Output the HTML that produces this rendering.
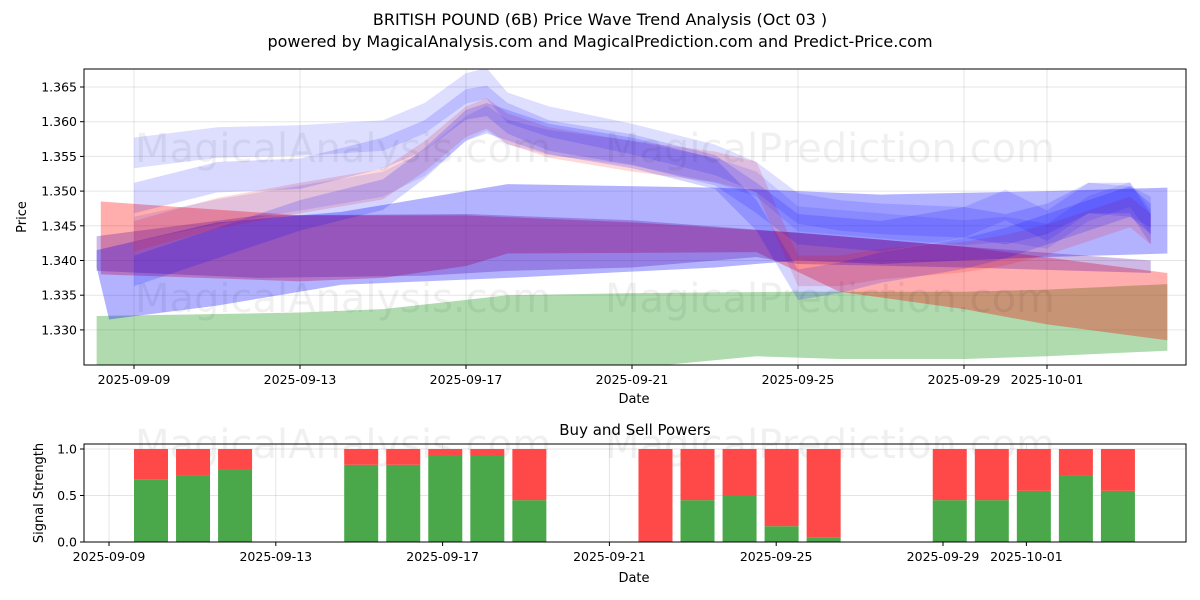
<!DOCTYPE html>
<html><head><meta charset="utf-8"><style>
body{margin:0;background:#fff}
svg{display:block;font-family:"DejaVu Sans","Liberation Sans",sans-serif}
</style></head><body>
<svg id="chart" width="1200" height="600" viewBox="0 0 1200 600">
<defs>
<clipPath id="topclip"><rect x="84" y="69" width="1102" height="296"/></clipPath>
</defs>
<rect width="1200" height="600" fill="#fff"/>
<text x="600" y="25" text-anchor="middle" font-size="16">BRITISH POUND (6B) Price Wave Trend Analysis (Oct 03 )</text>
<text x="600" y="47" text-anchor="middle" font-size="16">powered by MagicalAnalysis.com and MagicalPrediction.com and Predict-Price.com</text>
<g id="topgrid"></g>
<g id="bands" clip-path="url(#topclip)"></g>
<g font-size="40" fill="#000" fill-opacity="0.06">
<text x="135" y="162">MagicalAnalysis.com</text><text x="605" y="162">MagicalPrediction.com</text>
<text x="135" y="312">MagicalAnalysis.com</text><text x="605" y="312">MagicalPrediction.com</text>
<text x="135" y="458">MagicalAnalysis.com</text><text x="605" y="458">MagicalPrediction.com</text>
</g>
<rect x="84" y="69" width="1102" height="296" fill="none" stroke="#000"/>
<g id="topticks"></g>
<text x="634" y="403" text-anchor="middle" font-size="13">Date</text>
<text transform="translate(26,217) rotate(-90)" text-anchor="middle" font-size="13">Price</text>
<text x="635" y="435" text-anchor="middle" font-size="15">Buy and Sell Powers</text>
<g id="botgrid"></g>
<g id="bars"></g>
<rect x="84" y="444" width="1102" height="98" fill="none" stroke="#000"/>
<g id="botticks"></g>
<text x="634" y="582" text-anchor="middle" font-size="13">Date</text>
<text transform="translate(43,493) rotate(-90)" text-anchor="middle" font-size="13">Signal Strength</text>
</svg>
<script>
const xTickDays=[0,4,8,12,16,20,22];
const xTickLabels=["2025-09-09","2025-09-13","2025-09-17","2025-09-21","2025-09-25","2025-09-29","2025-10-01"];
const yTickValues=[1.330,1.335,1.340,1.345,1.350,1.355,1.360,1.365];
const sigTicks=[0,0.5,1.0];
// bands: days from 2025-09-09
const greenTopX=[-0.9,4,6,9,12,16,20,22,24.9];
const greenTopY=[1.332,1.3325,1.333,1.335,1.3353,1.3355,1.3355,1.3358,1.3366];
const greenBotX=[-0.9,12,15,17,20,22,24.9];
const greenBotY=[1.3245,1.3245,1.3262,1.3258,1.3258,1.3262,1.327];
const redTopX=[-0.8,4,8,12,16,20,24.9];
const redTopY=[1.3485,1.3465,1.3465,1.3455,1.344,1.342,1.3382];
const redBotX=[-0.8,4,6,8,9,15,17,20,22,24.9];
const redBotY=[1.338,1.337,1.3375,1.3392,1.341,1.3412,1.3355,1.333,1.3308,1.3285];
const wideBlueTopX=[-0.9,2,5,9,14,18,22,24.9];
const wideBlueTopY=[1.3415,1.3455,1.347,1.351,1.3505,1.3495,1.350,1.3505];
const wideBlueBotX=[-0.9,-0.6,2,5,9,14,16,18,22,24.9];
const wideBlueBotY=[1.339,1.3315,1.3335,1.3365,1.3375,1.339,1.34,1.3395,1.3405,1.341];
const purpleTopX=[-0.9,3,8,12,16,20,24.5];
const purpleTopY=[1.3435,1.3465,1.3467,1.3458,1.344,1.342,1.340];
const purpleBotX=[-0.9,3,7,9,12,15,16,20,24.5];
const purpleBotY=[1.3385,1.3375,1.3378,1.3385,1.339,1.3405,1.3395,1.339,1.3382];
const waveX=[0,2,4,6,7,8,8.5,9,10,12,14,15,16,17,18,20,21,22,23,24,24.5];
const waveA=[1.3555,1.357,1.3573,1.358,1.3605,1.3648,1.3655,1.362,1.360,1.3575,1.3545,1.352,1.3475,1.3465,1.346,1.3455,1.348,1.345,1.349,1.3485,1.347];
const waveB=[1.349,1.352,1.3525,1.3555,1.358,1.3625,1.363,1.3605,1.358,1.356,1.353,1.349,1.3445,1.344,1.3435,1.3455,1.3445,1.346,1.349,1.349,1.3445];
const waveC=[1.3385,1.3425,1.3465,1.3495,1.354,1.3595,1.3605,1.3595,1.3575,1.3555,1.3525,1.3465,1.3365,1.3375,1.339,1.341,1.3425,1.3445,1.3465,1.3485,1.346];
const waveD=[1.3445,1.347,1.349,1.351,1.354,1.359,1.3605,1.3585,1.357,1.3555,1.353,1.351,1.346,1.3455,1.345,1.344,1.3445,1.3435,1.3475,1.3495,1.3455];
const pinkY=[1.3435,1.3468,1.349,1.351,1.355,1.360,1.3612,1.359,1.357,1.355,1.3535,1.352,1.3385,1.3385,1.3395,1.3405,1.3415,1.343,1.345,1.347,1.3445];
// bars
const barDays=[1,2,3,6,7,8,9,10,13,14,15,16,17,20,21,22,23,24];
const buyPower=[0.67,0.72,0.78,0.83,0.83,0.93,0.93,0.45,0.0,0.45,0.5,0.17,0.05,0.45,0.45,0.55,0.72,0.55];

const NS="http://www.w3.org/2000/svg";
const tx=d=>134+d*41.5;
const ty=p=>87+(1.365-p)/0.005*34.7;
const bx=d=>109+d*41.7;
const barX=d=>151+(d-1)*42.04;
const by=v=>542-v*93;
function mk(tag,attrs,parent){const e=document.createElementNS(NS,tag);for(const k in attrs)e.setAttribute(k,attrs[k]);parent.appendChild(e);return e;}
const G=id=>document.getElementById(id);

xTickDays.forEach((d,i)=>{
  const l=mk('line',{x1:tx(d),x2:tx(d),y1:69,y2:365,stroke:'#000','stroke-opacity':0.1},G('topgrid'));
  
  mk('line',{x1:tx(d),x2:tx(d),y1:365,y2:369,stroke:'#000'},G('topticks'));
  const t=mk('text',{x:tx(d),y:384,'text-anchor':'middle','font-size':12.5},G('topticks'));
  t.textContent=xTickLabels[i];
  
});
yTickValues.forEach(v=>{
  const l=mk('line',{x1:84,x2:1186,y1:ty(v),y2:ty(v),stroke:'#000','stroke-opacity':0.1},G('topgrid'));
  
  mk('line',{x1:80,x2:84,y1:ty(v),y2:ty(v),stroke:'#000'},G('topticks'));
  const t=mk('text',{x:77,y:ty(v)+4.5,'text-anchor':'end','font-size':12.5},G('topticks'));
  t.textContent=v.toFixed(3);
  
});

function edgeBand(topX,topY,botX,botY,fill,op,name){
  const pts=topX.map((d,i)=>tx(d)+','+ty(topY[i]));
  for(let i=botX.length-1;i>=0;i--)pts.push(tx(botX[i])+','+ty(botY[i]));
  const p=mk('polygon',{points:pts.join(' '),fill:fill,'fill-opacity':op},G('bands'));
  
}
function waveBand(xs,ys,hw,fill,op,name){
  edgeBand(xs,ys.map(v=>v+hw),xs,ys.map(v=>v-hw),fill,op,name);
}
edgeBand(greenTopX,greenTopY,greenBotX,greenBotY,'#2ca02c',0.38,'green-band');
edgeBand(redTopX,redTopY,redBotX,redBotY,'#ff0000',0.32,'red-band');
edgeBand(wideBlueTopX,wideBlueTopY,wideBlueBotX,wideBlueBotY,'#0000ff',0.3,'wide-blue-band');
edgeBand(purpleTopX,purpleTopY,purpleBotX,purpleBotY,'#5000a0',0.28,'purple-band');
waveBand(waveX,pinkY,0.0022,'#ff0000',0.15,'pink-wave-band');
waveBand(waveX,waveA,0.0022,'#0000ff',0.13,'blue-wave-a');
waveBand(waveX,waveB,0.0022,'#0000ff',0.15,'blue-wave-b');
waveBand(waveX,waveC,0.0022,'#0000ff',0.17,'blue-wave-c');
waveBand(waveX,waveD,0.0018,'#0000ff',0.11,'blue-wave-d');

xTickDays.forEach((d,i)=>{
  const l=mk('line',{x1:bx(d),x2:bx(d),y1:444,y2:542,stroke:'#000','stroke-opacity':0.1},G('botgrid'));
  
  mk('line',{x1:bx(d),x2:bx(d),y1:542,y2:546,stroke:'#000'},G('botticks'));
  const t=mk('text',{x:bx(d),y:561,'text-anchor':'middle','font-size':12.5},G('botticks'));
  t.textContent=xTickLabels[i];
  
});
sigTicks.forEach(v=>{
  const l=mk('line',{x1:84,x2:1186,y1:by(v),y2:by(v),stroke:'#000','stroke-opacity':0.1},G('botgrid'));
  
  mk('line',{x1:80,x2:84,y1:by(v),y2:by(v),stroke:'#000'},G('botticks'));
  const t=mk('text',{x:77,y:by(v)+4.5,'text-anchor':'end','font-size':12.5},G('botticks'));
  t.textContent=v.toFixed(1);
  
});
barDays.forEach((d,i)=>{
  const b=buyPower[i],w=34,x=barX(d)-w/2;
  const g=mk('rect',{x:x,y:by(b),width:w,height:by(0)-by(b),fill:'#4aa84a'},G('bars'));
  
  const r=mk('rect',{x:x,y:by(1),width:w,height:by(b)-by(1),fill:'#ff4848'},G('bars'));
  
});
</script>
</body></html>
